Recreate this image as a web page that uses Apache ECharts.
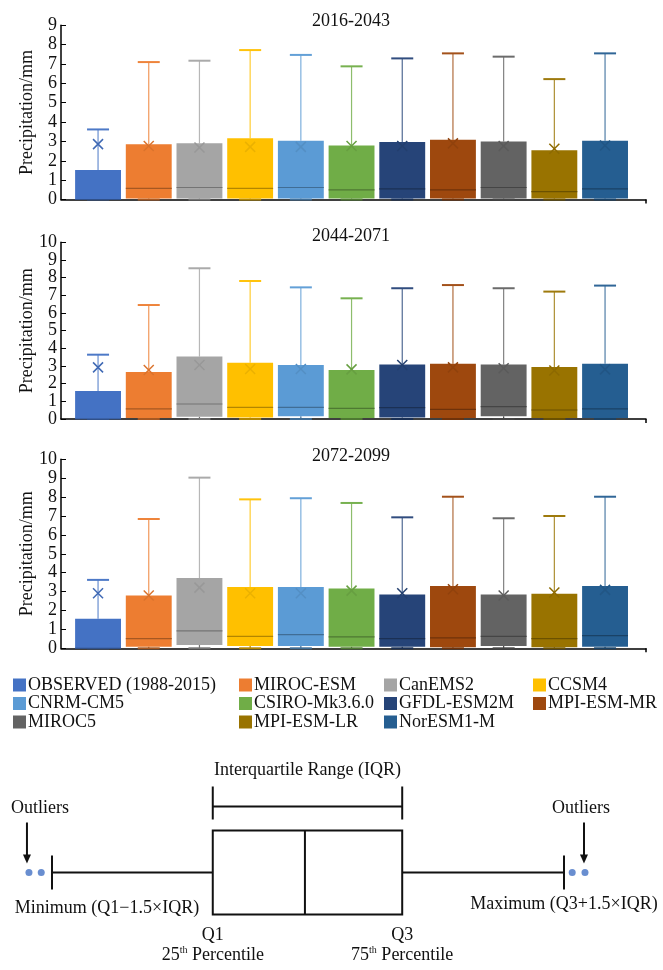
<!DOCTYPE html>
<html>
<head>
<meta charset="utf-8">
<script src="https://cdn.jsdelivr.net/npm/echarts@6/dist/echarts.min.js"></script>
<style>
  html, body { margin: 0; padding: 0; background: #fff; }
  #chart { width: 663px; height: 970px; }
</style>
</head>
<body>
<div id="chart"></div>
<script>
// ---- data ----
const categories = ['OBSERVED (1988-2015)', 'MIROC-ESM', 'CanEMS2', 'CCSM4', 'CNRM-CM5',
  'CSIRO-Mk3.6.0', 'GFDL-ESM2M', 'MPI-ESM-MR', 'MIROC5', 'MPI-ESM-LR', 'NorESM1-M'];
const periods = ['2016-2043', '2044-2071', '2072-2099'];
const yMaxByPeriod = [9, 10, 10];

// 2016-2043
const min1  = [0, 0, 0, 0, 0, 0, 0, 0, 0, 0, 0];
const q1_1  = [0, 0.05, 0.05, 0.05, 0.05, 0.05, 0.05, 0.05, 0.05, 0.05, 0.05];
const med1  = [0, 0.57, 0.62, 0.57, 0.62, 0.50, 0.55, 0.50, 0.62, 0.41, 0.55];
const q3_1  = [1.52, 2.86, 2.90, 3.17, 3.03, 2.79, 2.97, 3.09, 3.00, 2.55, 3.03];
const max1  = [3.62, 7.10, 7.17, 7.72, 7.47, 6.88, 7.29, 7.55, 7.38, 6.22, 7.55];
const mean1 = [2.86, 2.76, 2.69, 2.72, 2.72, 2.76, 2.76, 2.90, 2.76, 2.62, 2.79];

// 2044-2071
const min2  = [0, 0, 0, 0, 0, 0, 0, 0, 0, 0, 0];
const q1_2  = [0, 0.05, 0.13, 0.08, 0.15, 0.05, 0.08, 0.05, 0.15, 0.05, 0.05];
const med2  = [0, 0.57, 0.85, 0.66, 0.66, 0.60, 0.64, 0.55, 0.70, 0.51, 0.57];
const q3_2  = [1.58, 2.66, 3.53, 3.19, 3.06, 2.77, 3.08, 3.13, 3.08, 2.94, 3.13];
const max2  = [3.64, 6.45, 8.53, 7.81, 7.45, 6.83, 7.40, 7.58, 7.40, 7.21, 7.55];
const mean2 = [2.92, 2.77, 3.06, 2.83, 2.83, 2.81, 3.06, 2.92, 2.87, 2.74, 2.81];

// 2072-2099
const min3  = [0, 0, 0, 0, 0, 0, 0, 0, 0, 0, 0];
const q1_3  = [0, 0.08, 0.18, 0.12, 0.12, 0.08, 0.08, 0.05, 0.12, 0.05, 0.08];
const med3  = [0, 0.51, 0.92, 0.63, 0.72, 0.60, 0.51, 0.55, 0.63, 0.51, 0.67];
const q3_3  = [1.57, 2.80, 3.72, 3.25, 3.25, 3.16, 2.84, 3.30, 2.84, 2.89, 3.30];
const max3  = [3.62, 6.84, 9.03, 7.88, 7.94, 7.69, 6.93, 8.02, 6.88, 7.00, 8.02];
const mean3 = [2.91, 2.79, 3.21, 2.91, 2.91, 3.05, 2.91, 3.12, 2.79, 2.95, 3.09];

// explanatory box diagram (schematic units)
const schematicStats = [0, 31.4, 49.4, 68.4, 100];   // min, Q1, median, Q3, max
const outliersLow  = [-4.5, -2.1];
const outliersHigh = [101.6, 104.1];

// ---- styling ----
const colors = ['#4472C4', '#ED7D31', '#A5A5A5', '#FFC000', '#5B9BD5',
  '#70AD47', '#264478', '#9E480E', '#636363', '#997300', '#255E91'];
const FONT = "'Liberation Serif', 'Times New Roman', serif";
const TEXT = '#111';

function mix(hex, target, t) {
  const a = parseInt(hex.slice(1), 16), b = parseInt(target.slice(1), 16);
  const ch = (v, s) => (v >> s) & 255;
  const r = Math.round(ch(a,16) + (ch(b,16) - ch(a,16)) * t);
  const g = Math.round(ch(a,8) + (ch(b,8) - ch(a,8)) * t);
  const bl = Math.round(ch(a,0) + (ch(b,0) - ch(a,0)) * t);
  return 'rgb(' + r + ',' + g + ',' + bl + ')';
}

const periodStats = [
  [min1, q1_1, med1, q3_1, max1, mean1],
  [min2, q1_2, med2, q3_2, max2, mean2],
  [min3, q1_3, med3, q3_3, max3, mean3]
];

// panel placement
const panels = [
  { top: 25.3, height: 174.2, titleTop: 12 },
  { top: 242.3, height: 176.7, titleTop: 227 },
  { top: 459.3, height: 189, titleTop: 447 }
];

function renderBox(params, api) {
  const idx = api.value(0);
  const c = colors[idx];
  const whisk = mix(c, '#ffffff', 0.2);
  const band = api.size([1, 0])[0];
  const w = band * 0.905;
  const pMin = api.coord([idx, api.value(1)]);
  const cx = pMin[0];
  const yMin = pMin[1];
  const yQ1 = api.coord([idx, api.value(2)])[1];
  const yMed = api.coord([idx, api.value(3)])[1];
  const yQ3 = api.coord([idx, api.value(4)])[1];
  const yMax = api.coord([idx, api.value(5)])[1];
  const yMean = api.coord([idx, api.value(6)])[1];
  const cap = 11, xs = 5;
  return {
    type: 'group',
    children: [
      { type: 'line', shape: { x1: cx, y1: yQ3, x2: cx, y2: yMax }, style: { stroke: whisk, lineWidth: 1.2 } },
      { type: 'line', shape: { x1: cx - cap, y1: yMax, x2: cx + cap, y2: yMax }, style: { stroke: mix(c, '#ffffff', 0.05), lineWidth: 2 } },
      { type: 'line', shape: { x1: cx, y1: yQ1, x2: cx, y2: yMin }, style: { stroke: mix(c, '#000000', 0.3), lineWidth: 1.2 } },
      { type: 'line', shape: { x1: cx - cap, y1: yMin, x2: cx + cap, y2: yMin }, style: { stroke: mix(c, '#000000', 0.3), lineWidth: 2 } },
      { type: 'rect', shape: { x: cx - w / 2, y: yQ3, width: w, height: yQ1 - yQ3 }, style: { fill: c } },
      { type: 'line', shape: { x1: cx - w / 2, y1: yMed, x2: cx + w / 2, y2: yMed }, style: { stroke: mix(c, '#000000', 0.3), lineWidth: 1.2 } },
      { type: 'line', shape: { x1: cx - xs, y1: yMean - xs, x2: cx + xs, y2: yMean + xs }, style: { stroke: mix(c, '#000000', 0.08), lineWidth: 1.5 } },
      { type: 'line', shape: { x1: cx - xs, y1: yMean + xs, x2: cx + xs, y2: yMean - xs }, style: { stroke: mix(c, '#000000', 0.08), lineWidth: 1.5 } }
    ]
  };
}

const grid = [], xAxis = [], yAxis = [], series = [], title = [];
const labelStyle = { fontFamily: FONT, fontSize: 18, color: TEXT, margin: 4 };
const range = (a, b, step) => { const r = []; for (let v = a; v <= b; v += step) r.push(v); return r; };

panels.forEach((p, i) => {
  const yMax = yMaxByPeriod[i];
  const outlineGrid = grid.length;
  // outline grid: axis lines, ticks, labels
  grid.push({ left: 61, right: 17, top: p.top, height: p.height });
  const dataGrid = grid.length;
  // data grid: boxes laid out on the category band
  grid.push({ left: 72.7, right: 32.6, top: p.top, height: p.height });

  xAxis.push({
    gridIndex: outlineGrid, type: 'value', min: 0, max: 1,
    axisLine: { show: true, lineStyle: { color: '#000', width: 1.5 } },
    axisTick: { show: true, customValues: [1], length: 4, lineStyle: { color: '#000', width: 1.5 } },
    axisLabel: { show: false }, splitLine: { show: false }
  });
  const dataX = xAxis.length;
  xAxis.push({ gridIndex: dataGrid, type: 'category', data: categories, show: false });

  // even tick labels, axis line, ticks and name
  yAxis.push({
    gridIndex: outlineGrid, type: 'value', min: 0, max: yMax, interval: 1,
    axisLine: { show: true, lineStyle: { color: '#000', width: 1.5 } },
    axisTick: { show: true, inside: true, length: 5, lineStyle: { color: '#000', width: 1 } },
    axisLabel: Object.assign({ customValues: range(0, yMax, 2) }, labelStyle),
    splitLine: { show: false },
    name: 'Precipitation/mm', nameLocation: 'middle', nameGap: 25, nameMoveOverlap: false,
    nameTextStyle: { fontFamily: FONT, fontSize: 18, color: TEXT }
  });
  // odd tick labels on the same line
  yAxis.push({
    gridIndex: outlineGrid, type: 'value', min: 0, max: yMax, interval: 1, position: 'left', offset: 0,
    axisLine: { show: false }, axisTick: { show: false },
    axisLabel: Object.assign({ customValues: range(1, yMax, 2) }, labelStyle),
    splitLine: { show: false }
  });
  const dataY = yAxis.length;
  yAxis.push({ gridIndex: dataGrid, type: 'value', min: 0, max: yMax, show: false });

  title.push({
    text: periods[i], left: 351, top: p.titleTop, textAlign: 'center', padding: 0,
    textStyle: { fontFamily: FONT, fontSize: 18, fontWeight: 'normal', color: TEXT }
  });

  const s = periodStats[i];
  series.push({
    type: 'custom', name: periods[i],
    xAxisIndex: dataX, yAxisIndex: dataY,
    renderItem: renderBox, clip: false,
    encode: { x: 0, y: [1, 2, 3, 4, 5, 6] },
    data: categories.map((_, k) => [k, s[0][k], s[1][k], s[2][k], s[3][k], s[4][k], s[5][k]])
  });
});

// legend entries (one per model)
categories.forEach((name, k) => {
  series.push({ type: 'line', name, data: [], color: colors[k], xAxisIndex: 1, yAxisIndex: 2 });
});

const legendColumns = [[0, 4, 8], [1, 5, 9], [2, 6, 10], [3, 7]];
const legendLeft = [13, 239, 384, 533];
const legend = legendColumns.map((col, c) => ({
  data: col.map(k => categories[k]),
  orient: 'vertical', left: legendLeft[c], top: 676,
  itemWidth: 13, itemHeight: 13, itemGap: 0.5, icon: 'rect', padding: 0,
  selectedMode: false,
  textStyle: { fontFamily: FONT, fontSize: 18, color: TEXT, lineHeight: 18, padding: [0, 0, 0, -3] }
}));

// explanatory box diagram
const schemGrid = grid.length;
grid.push({ left: 52, right: 99, top: 775, height: 200 });
const schemX = xAxis.length;
xAxis.push({ gridIndex: schemGrid, type: 'value', min: schematicStats[0], max: schematicStats[4], show: false });
const schemY = yAxis.length;
yAxis.push({ gridIndex: schemGrid, type: 'value', min: -1, max: 1, show: false });

function renderSchematic(params, api) {
  const px = v => api.coord([v, 0])[0];
  const y0 = api.coord([0, 0])[1];
  const xMin = px(api.value(0)), xQ1 = px(api.value(1)), xMed = px(api.value(2));
  const xQ3 = px(api.value(3)), xMax = px(api.value(4));
  const xOutL = px(outliersLow[0]);
  const xOutR = px(outliersHigh[1]);
  const ln = { stroke: '#111', lineWidth: 2 };
  const txt = (text, x, y, extra) => ({
    type: 'text',
    style: Object.assign({ text, x, y, align: 'center', verticalAlign: 'middle',
      font: '18px ' + FONT, fill: TEXT }, extra || {})
  });
  const pct = {
    rich: {
      n: { fontFamily: FONT, fontSize: 18, lineHeight: 20, fill: TEXT, color: TEXT },
      s: { fontFamily: FONT, fontSize: 10, lineHeight: 20, verticalAlign: 'top', color: TEXT, padding: [0, 0, 8, 0] }
    }
  };
  const arrow = (x) => [
    { type: 'line', shape: { x1: x, y1: y0 - 50, x2: x, y2: y0 - 16 }, style: ln },
    { type: 'polygon', shape: { points: [[x - 4, y0 - 18], [x + 4, y0 - 18], [x, y0 - 9]] }, style: { fill: '#111' } }
  ];
  return {
    type: 'group',
    children: [
      // box and median
      { type: 'rect', shape: { x: xQ1, y: y0 - 42, width: xQ3 - xQ1, height: 84 }, style: { fill: 'none', stroke: '#111', lineWidth: 2 } },
      { type: 'line', shape: { x1: xMed, y1: y0 - 42, x2: xMed, y2: y0 + 42 }, style: ln },
      // whiskers
      { type: 'line', shape: { x1: xMin, y1: y0, x2: xQ1, y2: y0 }, style: ln },
      { type: 'line', shape: { x1: xMin, y1: y0 - 17, x2: xMin, y2: y0 + 17 }, style: ln },
      { type: 'line', shape: { x1: xQ3, y1: y0, x2: xMax, y2: y0 }, style: ln },
      { type: 'line', shape: { x1: xMax, y1: y0 - 17, x2: xMax, y2: y0 + 17 }, style: ln },
      // IQR bracket
      { type: 'line', shape: { x1: xQ1, y1: y0 - 66, x2: xQ3, y2: y0 - 66 }, style: ln },
      { type: 'line', shape: { x1: xQ1, y1: y0 - 86, x2: xQ1, y2: y0 - 53 }, style: ln },
      { type: 'line', shape: { x1: xQ3, y1: y0 - 86, x2: xQ3, y2: y0 - 53 }, style: ln },
      ...arrow(xOutL - 2),
      ...arrow(xOutR - 1),
      txt('Interquartile Range (IQR)', (xQ1 + xQ3) / 2, y0 - 102),
      txt('Outliers', xOutL + 11, y0 - 64),
      txt('Outliers', xOutR - 4, y0 - 64),
      txt('Minimum (Q1\u22121.5\u00d7IQR)', xMin + 55, y0 + 36),
      txt('Maximum (Q3+1.5\u00d7IQR)', xMax, y0 + 32),
      txt('Q1', xQ1, y0 + 63),
      txt('Q3', xQ3, y0 + 63),
      txt('25{s|th}{n| Percentile}', xQ1, y0 + 83, pct),
      txt('75{s|th}{n| Percentile}', xQ3, y0 + 83, pct)
    ]
  };
}

series.push({
  type: 'custom', name: 'schematic',
  xAxisIndex: schemX, yAxisIndex: schemY,
  renderItem: renderSchematic, clip: false,
  encode: { x: [0, 1, 2, 3, 4] },
  data: [schematicStats]
});
series.push({
  type: 'scatter', name: 'outliers',
  xAxisIndex: schemX, yAxisIndex: schemY, clip: false,
  symbolSize: 7, itemStyle: { color: '#4472C4' },
  data: outliersLow.concat(outliersHigh).map(v => [v, 0])
});

const chart = echarts.init(document.getElementById('chart'), null, { renderer: 'canvas' });
chart.setOption({
  backgroundColor: '#fff',
  animation: false,
  title, grid, xAxis, yAxis, legend, series
});
</script>
</body>
</html>
